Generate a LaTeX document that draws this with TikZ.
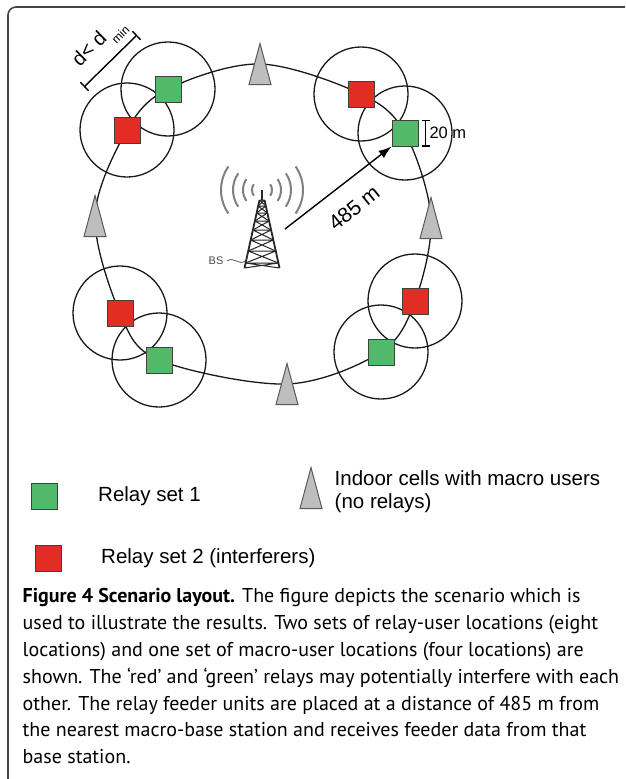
\documentclass[tikz,border=0pt]{standalone}
\usepackage{fontspec}
\setmainfont{Liberation Sans}
\newfontfamily\capfont{PT Sans}
\usetikzlibrary{positioning, arrows.meta, backgrounds}
\definecolor{relgreen}{RGB}{82,185,106}
\definecolor{relred}{RGB}{226,45,36}
\definecolor{cellgray}{RGB}{188,190,192}
\definecolor{framegray}{RGB}{70,70,70}
\begin{document}
\begin{tikzpicture}[x=1pt, y=-1pt, line width=1.4pt,
  relay/.style = {draw=black!75, line width=1pt, minimum size=26pt, inner sep=0pt},
  setone/.style = {relay, fill=relgreen},
  settwo/.style = {relay, fill=relred},
  cell/.style = {draw=black!65, fill=cellgray, line width=1pt},
  ring/.style = {draw=black!90, line width=1.3pt},
  wave/.style = {black!50, line width=2pt},
  mast/.style = {black!85, line width=1pt},
  lbl/.style = {font=\fontsize{20.5}{23}\selectfont, inner sep=0pt, anchor=west}]
\useasboundingbox (0,0) rectangle (625,779);
\draw[framegray, line width=1.6pt, rounded corners=8pt] (625,7) -- (8,7) -- (8,779);

\node[setone] (g1) at (168,89) {};
\node[settwo] (r1) at (127,130) {};
\node[settwo] (r2) at (361,94) {};
\node[setone] (g2) at (405,133) {};
\node[settwo] (r3) at (415,301) {};
\node[setone] (g3) at (381,352) {};
\node[setone] (g4) at (159,360) {};
\node[settwo] (r4) at (120,313) {};
\coordinate (c1) at (260,64);
\coordinate (c2) at (431,218);
\coordinate (c3) at (287,384);
\coordinate (c4) at (95,216);
\coordinate (c0) at (311,488);
\begin{scope}[on background layer]
\foreach \n in {g1,r1,r2,g2,r3,g3,g4,r4} \draw[ring] (\n) circle (47pt);
\draw[ring] plot[smooth cycle, tension=0.55] coordinates {(g1) (c1) (r2) (g2) (c2) (r3) (g3) (c3) (g4) (r4) (c4) (r1)};
\end{scope}
\foreach \c in {c1,c2,c3,c4,c0} \draw[cell] (\c) ++(0,-20.5) -- ++(11,41) -- ++(-22,0) -- cycle;

\coordinate (bs) at (262,190);
\foreach \r in {10,19,29,41} {
  \draw[wave] ([shift={(145:\r)}]bs) arc[start angle=145, end angle=215, radius=\r];
  \draw[wave] ([shift={(-35:\r)}]bs) arc[start angle=-35, end angle=35, radius=\r];
}
\foreach \ya/\yb in {200/206,206/213,213/221,221/230,230/240,240/251,251/263,263/268} {
  \pgfmathsetmacro\wa{2.5+(\ya-200)*0.22}
  \pgfmathsetmacro\wb{2.5+(\yb-200)*0.22}
  \draw[mast] (262-\wa,\ya) -- (262+\wb,\yb) (262+\wa,\ya) -- (262-\wb,\yb) (262-\wa,\ya) -- (262+\wa,\ya);
}
\draw[mast, line width=1.8pt] (bs) -- (262,200) (259.5,200) -- (244.5,268) (264.5,200) -- (279.5,268);
\node[font=\fontsize{11}{11}\selectfont, text=black!70] (bsl) at (216,261) {BS};
\draw[black!60, line width=0.9pt] (bsl.east) .. controls +(6,-5) and +(-6,5) .. (245,261);

\coordinate (tx) at (285,229);
\draw[-{Latex[length=13pt, width=9pt]}] (tx) -- (g2.south west);
\node[font=\fontsize{21}{21}\selectfont, rotate=39] (dist) at (354,208) {485 m};
\draw[{Bar[width=8pt]}-{Bar[width=8pt]}] ([xshift=7pt]g2.north east) -- ([xshift=7pt]g2.south east) node[midway, right=0pt, font=\fontsize{16.5}{16.5}\selectfont] (wd) {20 m};

\coordinate (dA) at (84,87);
\coordinate (dB) at (137,35);
\draw[{Bar[width=12pt]}-{Bar[width=12pt]}] (dA) -- (dB);
\node[rotate=44.5, font=\fontsize{20}{20}\selectfont] (dmin) at (100,44) {d< d\,\raisebox{-0.45em}{\fontsize{12}{12}\selectfont min}};

\node[setone] (lg) at (44,496) {};
\node[lbl, right=40pt of lg] (lgt) {Relay set 1};
\node[lbl, align=left] (lct) at (334,492) {Indoor cells with macro users\\(no relays)};
\node[settwo] (lr) at (48,558) {};
\node[lbl, right=39pt of lr] (lrt) {Relay set 2 (interferers)};

\node[anchor=north west, inner sep=0pt, align=left, font=\capfont\fontsize{20}{26.8}\selectfont] (cap) at (22,588) {\textbf{Figure 4 Scenario layout.} The figure depicts the scenario which is\\used to illustrate the results. Two sets of relay-user locations (eight\\locations) and one set of macro-user locations (four locations) are\\shown. The ‘red’ and ‘green’ relays may potentially interfere with each\\other. The relay feeder units are placed at a distance of 485 m from\\the nearest macro-base station and receives feeder data from that\\base station.};
\end{tikzpicture}
\end{document}
